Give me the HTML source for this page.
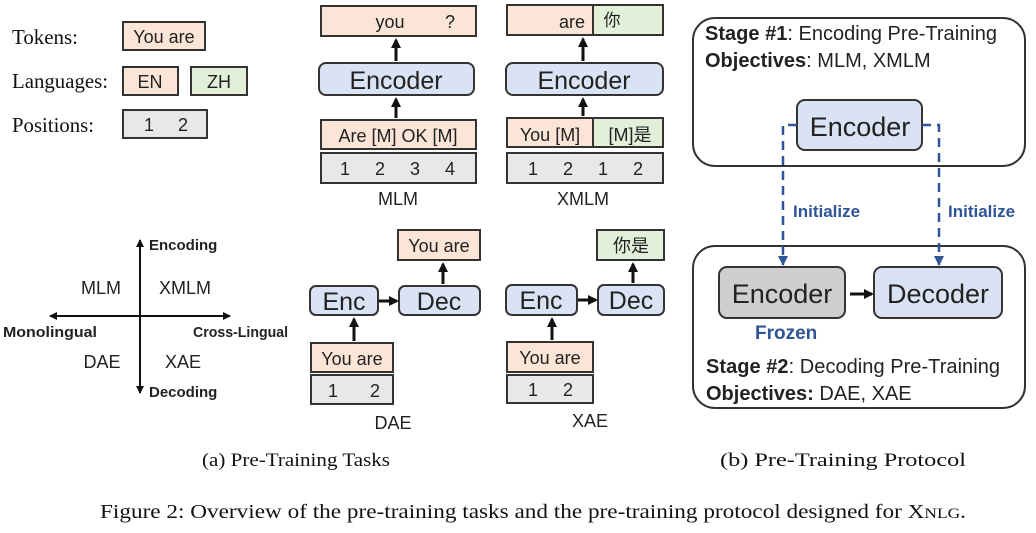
<!DOCTYPE html>
<html><head><meta charset="utf-8"><style>
body{margin:0;background:#fff}
svg text{font-family:"Liberation Sans","Noto Sans CJK SC",sans-serif}
.s{font-family:"Liberation Serif","Noto Serif CJK SC",serif !important}
</style></head><body>
<svg width="1036" height="528" viewBox="0 0 1036 528" xmlns="http://www.w3.org/2000/svg">
<defs>
<marker id="a" markerWidth="10" markerHeight="10" refX="8" refY="5" orient="auto" markerUnits="userSpaceOnUse"><path d="M0,0 L10,5 L0,10z" fill="#111"/></marker>
<marker id="c" markerWidth="8" markerHeight="8" refX="7" refY="4" orient="auto" markerUnits="userSpaceOnUse"><path d="M0,0 L8,4 L0,8z" fill="#111"/></marker>
<marker id="b" markerWidth="10" markerHeight="10" refX="9" refY="5" orient="auto" markerUnits="userSpaceOnUse"><path d="M0,0 L10,5 L0,10z" fill="#2f5597"/></marker>
</defs>
<g stroke="#333" stroke-width="2">
<rect x="123" y="22" width="82" height="28" fill="#fbe5d6"/>
<rect x="123" y="67" width="55" height="28" fill="#fbe5d6"/>
<rect x="191" y="67" width="56" height="28" fill="#e2f0d9"/>
<rect x="123" y="110" width="84" height="28" fill="#e8e8e8"/>
<rect x="321" y="6" width="155" height="30" fill="#fbe5d6"/>
<rect x="319" y="63" width="155" height="32" rx="7" fill="#dae3f3"/>
<rect x="321" y="120" width="155" height="29" fill="#fbe5d6"/>
<rect x="321" y="153" width="155" height="30" fill="#e8e8e8"/>
<rect x="507" y="5" width="86" height="30" fill="#fbe5d6"/>
<rect x="593" y="5" width="70" height="30" fill="#e2f0d9"/>
<rect x="506" y="63" width="157" height="32" rx="7" fill="#dae3f3"/>
<rect x="507" y="118" width="86" height="29" fill="#fbe5d6"/>
<rect x="593" y="118" width="70" height="29" fill="#e2f0d9"/>
<rect x="507" y="153" width="156" height="30" fill="#e8e8e8"/>
<rect x="398" y="230" width="82" height="30" fill="#fbe5d6"/>
<rect x="310" y="286" width="68" height="29" rx="6" fill="#dae3f3"/>
<rect x="399" y="286" width="81" height="29" rx="6" fill="#dae3f3"/>
<rect x="311" y="343" width="82" height="29" fill="#fbe5d6"/>
<rect x="311" y="375" width="82" height="29" fill="#e8e8e8"/>
<rect x="597" y="230" width="67" height="30" fill="#e2f0d9"/>
<rect x="506" y="285" width="71" height="30" rx="6" fill="#dae3f3"/>
<rect x="598" y="285" width="66" height="30" rx="6" fill="#dae3f3"/>
<rect x="507" y="342" width="86" height="30" fill="#fbe5d6"/>
<rect x="507" y="375" width="86" height="28" fill="#e8e8e8"/>
<rect x="693" y="18" width="332" height="148" rx="22" fill="none"/>
<rect x="693" y="246" width="332" height="162" rx="22" fill="none"/>
<rect x="797" y="100" width="125" height="50" rx="8" fill="#dae3f3"/>
<rect x="719" y="267" width="126" height="51" rx="8" fill="#d0cece"/>
<rect x="874" y="267" width="128" height="51" rx="8" fill="#dae3f3"/>
</g>
<g stroke="#111" stroke-width="3" marker-end="url(#a)">
<line x1="396" y1="61" x2="396" y2="40"/>
<line x1="396" y1="118" x2="396" y2="99"/>
<line x1="583" y1="61" x2="583" y2="39"/>
<line x1="583" y1="116" x2="583" y2="99"/>
<line x1="443" y1="284" x2="443" y2="264"/>
<line x1="354" y1="341" x2="354" y2="319"/>
<line x1="379" y1="301" x2="397" y2="301"/>
<line x1="633" y1="283" x2="633" y2="264"/>
<line x1="552" y1="340" x2="552" y2="319"/>
<line x1="578" y1="300" x2="596" y2="300"/>
<line x1="850" y1="294" x2="872" y2="294"/>
</g>
<g stroke="#111" stroke-width="2" marker-end="url(#c)">
<line x1="140" y1="313" x2="140" y2="240"/>
<line x1="140" y1="313" x2="140" y2="393"/>
<line x1="140" y1="316" x2="230" y2="316"/>
<line x1="140" y1="316" x2="50" y2="316"/>
</g>
<g stroke="#2f5597" stroke-width="2.5" fill="none" stroke-dasharray="9,6" marker-end="url(#b)">
<path d="M797,125 H783 V265"/>
<path d="M922,125 H939 V265"/>
</g>
<g font-size="21" fill="#111">
<text x="12" y="44" class="s" textLength="66" lengthAdjust="spacingAndGlyphs">Tokens:</text>
<text x="12" y="88" class="s" textLength="96" lengthAdjust="spacingAndGlyphs">Languages:</text>
<text x="12" y="132" class="s" textLength="82" lengthAdjust="spacingAndGlyphs">Positions:</text>
</g>
<g font-size="18" fill="#222" text-anchor="middle">
<text x="164" y="43">You are</text>
<text x="150" y="88">EN</text>
<text x="219" y="88">ZH</text>
<text x="149" y="131">1</text><text x="183" y="131">2</text>
<text x="390" y="28">you</text><text x="450" y="28">?</text>
<text x="398" y="142">Are [M] OK [M]</text>
<text x="345" y="175">1</text><text x="380" y="175">2</text><text x="415" y="175">3</text><text x="450" y="175">4</text>
<text x="398" y="205">MLM</text>
<text x="585" y="28" text-anchor="end">are</text>
<text x="612" y="26" font-size="17">你</text>
<text x="550" y="141">You [M]</text>
<text x="630" y="141">[M]是</text>
<text x="533" y="175">1</text><text x="568" y="175">2</text><text x="603" y="175">1</text><text x="638" y="175">2</text>
<text x="583" y="205">XMLM</text>
<text x="439" y="252">You are</text>
<text x="631" y="252">你是</text>
<text x="352" y="365">You are</text>
<text x="550" y="364">You are</text>
<text x="333" y="397">1</text><text x="375" y="397">2</text>
<text x="533" y="396">1</text><text x="568" y="396">2</text>
<text x="393" y="429">DAE</text>
<text x="590" y="427">XAE</text>
<text x="101" y="294">MLM</text>
<text x="185" y="294">XMLM</text>
<text x="102" y="368">DAE</text>
<text x="183" y="368">XAE</text>
</g>
<g font-size="25" fill="#222" text-anchor="middle">
<text x="396" y="89">Encoder</text>
<text x="584" y="89">Encoder</text>
<text x="344" y="310">Enc</text>
<text x="439" y="310">Dec</text>
<text x="541" y="309">Enc</text>
<text x="631" y="309">Dec</text>
</g>
<g font-size="15" font-weight="bold" fill="#222">
<text x="149" y="250">Encoding</text>
<text x="149" y="397">Decoding</text>
<text x="3" y="337" textLength="94" lengthAdjust="spacingAndGlyphs">Monolingual</text>
<text x="193" y="337" textLength="95" lengthAdjust="spacingAndGlyphs">Cross-Lingual</text>
</g>
<g font-size="20" fill="#222">
<text x="705" y="40" textLength="292"><tspan font-weight="bold">Stage #1</tspan>: Encoding Pre-Training</text>
<text x="705" y="67"><tspan font-weight="bold">Objectives</tspan>: MLM, XMLM</text>
<text x="706" y="373" textLength="294"><tspan font-weight="bold">Stage #2</tspan>: Decoding Pre-Training</text>
<text x="706" y="400"><tspan font-weight="bold">Objectives:</tspan> DAE, XAE</text>
</g>
<g font-size="27" fill="#222" text-anchor="middle">
<text x="860" y="136">Encoder</text>
<text x="782" y="303">Encoder</text>
<text x="938" y="303">Decoder</text>
</g>
<g font-size="17" font-weight="bold" fill="#2f5597">
<text x="793" y="217">Initialize</text>
<text x="948" y="217">Initialize</text>
<text x="755" y="339" font-size="19">Frozen</text>
</g>
<g font-size="19" fill="#111">
<text x="202" y="466" class="s" textLength="188" lengthAdjust="spacingAndGlyphs">(a) Pre-Training Tasks</text>
<text x="720" y="466" class="s" textLength="246" lengthAdjust="spacingAndGlyphs">(b) Pre-Training Protocol</text>
<text x="100" y="518" class="s" font-size="20" textLength="866" lengthAdjust="spacingAndGlyphs">Figure 2: Overview of the pre-training tasks and the pre-training protocol designed for X<tspan font-size="15">NLG</tspan>.</text>
</g>
</svg>
</body></html>
